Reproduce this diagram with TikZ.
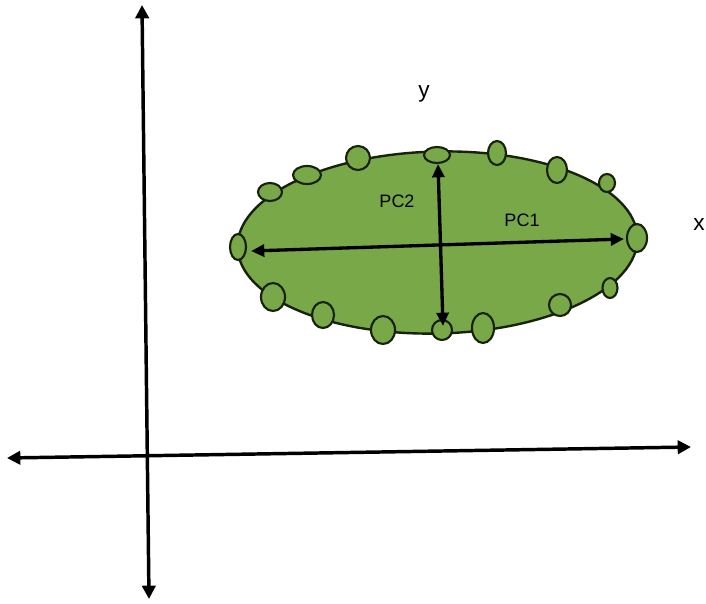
\documentclass[tikz,border=0pt]{standalone}
\usepackage{fontspec}
\setmainfont{Liberation Sans}
\usetikzlibrary{arrows.meta}
\definecolor{leaf}{RGB}{121,168,72}
\definecolor{edge}{RGB}{22,34,12}
\begin{document}
\begin{tikzpicture}[x=0.75pt,y=-0.75pt,
  axis/.style={line width=2.6pt,{Triangle[length=10pt,width=10pt]}-{Triangle[length=10pt,width=10pt]}},
  pcarrow/.style={line width=2.5pt,{Triangle[length=10pt,width=9pt]}-{Triangle[length=10pt,width=9pt]}},
  blob/.style={fill=leaf,draw=edge,line width=1.6pt},
  lab/.style={font=\fontsize{13.5}{15}\selectfont,inner sep=0pt}]
\useasboundingbox (0,0) rectangle (706,603);
% axes
\coordinate (vt) at (142,5);
\coordinate (vb) at (149,599);
\coordinate (hl) at (7,458);
\coordinate (hr) at (691,447);
\draw[axis] (vt) -- (vb);
\draw[axis] (hl) -- (hr);
% main ellipse
\draw[blob,line width=1.8pt] (437.5,242.5) ellipse [x radius=200, y radius=91, rotate=1.4];
% dots
\foreach \cx/\cy/\rx/\ry in {238/247/8/13, 270/192/12/9, 307/175/14/9, 358/158/12/12,
  437/155/13/8, 497/153/9/12, 557/170/10/13, 607/183/8/9, 637/238/10/14,
  610/288/7.5/10, 560/305/11/11, 483/328/11/15, 442/330/10/10, 383/330/12/14,
  323/315/11/13, 273/297/12/14}
  \draw[blob] (\cx,\cy) ellipse [x radius=\rx, y radius=\ry];
% principal components
\coordinate (p1l) at (251,251);
\coordinate (p1r) at (624,239);
\coordinate (p2t) at (438,164);
\coordinate (p2b) at (443,326);
\draw[pcarrow] (p1l) -- (p1r);
\draw[pcarrow] (p2t) -- (p2b);
% labels
\node[lab] (pc2) at (397,201) {PC2};
\node[lab] (pc1) at (522,220) {PC1};
\node[font=\fontsize{17}{19}\selectfont,inner sep=0pt] (ylab) at (424,94) {y};
\node[font=\fontsize{17}{19}\selectfont,inner sep=0pt,anchor=west] (xlab) at (693,225) {x};
\end{tikzpicture}
\end{document}
